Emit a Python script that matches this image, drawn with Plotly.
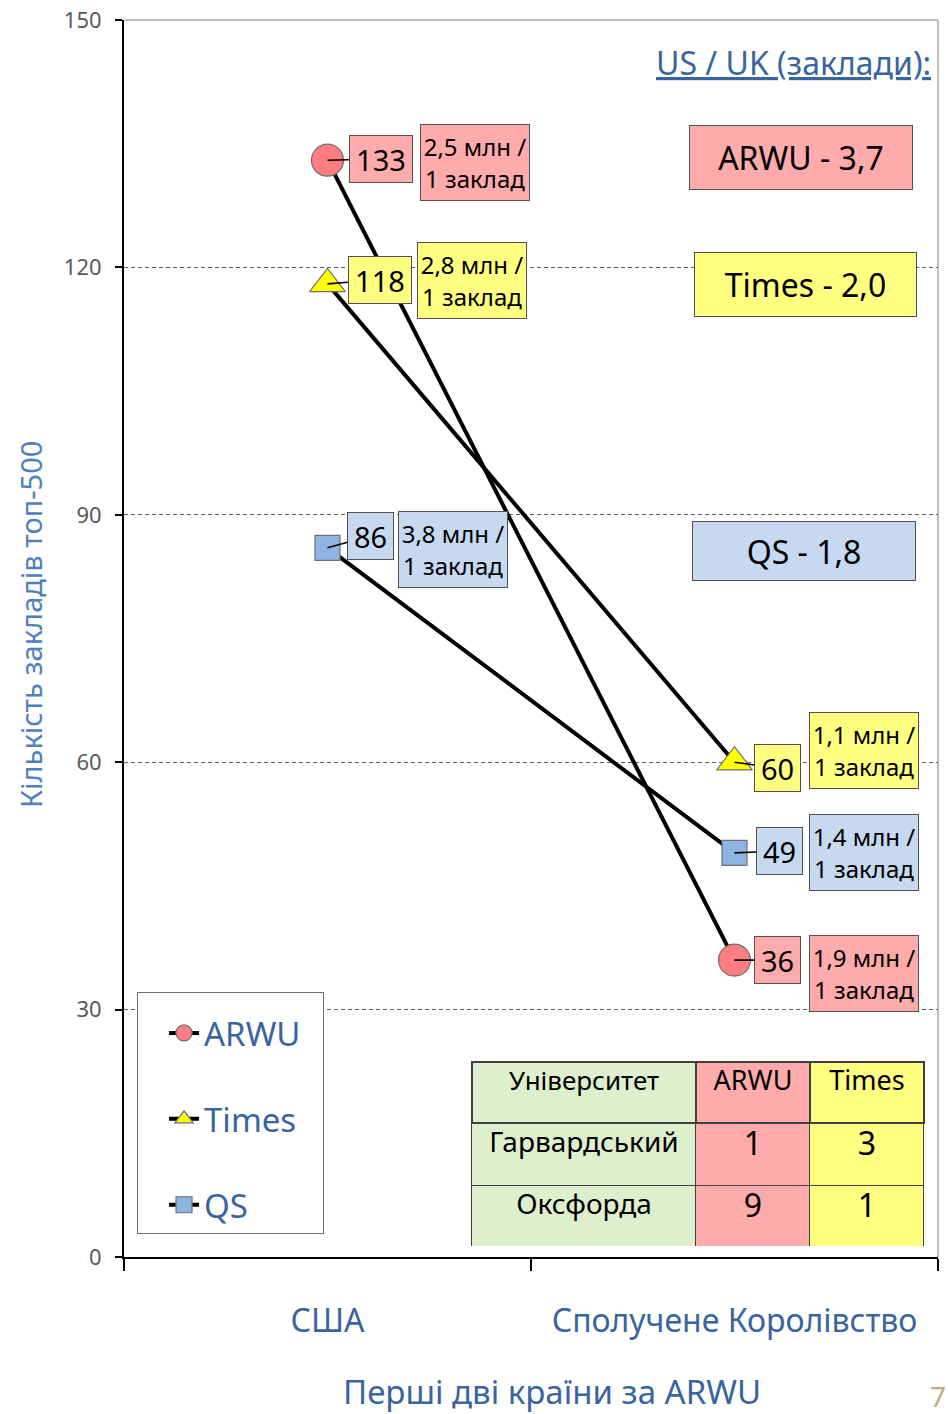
import plotly.graph_objects as go

# ---------------- data ----------------
countries = ["США", "Сполучене Королівство"]
series_names = ["ARWU", "Times", "QS"]
arwu = [133, 36]
times = [118, 60]
qs = [86, 49]
arwu_ratio = ["2,5 млн /", "1,9 млн /"]
times_ratio = ["2,8 млн /", "1,1 млн /"]
qs_ratio = ["3,8 млн /", "1,4 млн /"]
ratio_unit = "1 заклад"
us_uk_title = "US / UK (заклади):"
us_uk_ratio = ["3,7", "2,0", "1,8"]
table_header = ["Університет", "ARWU", "Times"]
universities = ["Гарвардський", "Оксфорда"]
arwu_rank = [1, 9]
times_rank = [3, 1]
y_ticks = [0, 30, 60, 90, 120, 150]
y_title = "Кількість закладів топ-500"
x_title = "Перші дві країни за ARWU"
page_no = "7"

# ---------------- styles ----------------
FONT = "Noto Sans"
BLUE = "#3A64A0"
marker_fill = {"ARWU": "#FF7C80", "Times": "#FFFF00", "QS": "#8DB4E2"}
marker_sym = {"ARWU": "circle", "Times": "triangle-up", "QS": "square"}
marker_size = {"ARWU": 32, "Times": 31, "QS": 25}
box_fill = {"ARWU": "#FFABAB", "Times": "#FFFF80", "QS": "#C6D9F1"}
values = {"ARWU": arwu, "Times": times, "QS": qs}
ratios = {"ARWU": arwu_ratio, "Times": times_ratio, "QS": qs_ratio}
# pixel offsets of label boxes relative to their point: (value dx, dy, ratio dx, dy)
offsets = {
    "ARWU": [(53, -1, 147, -2), (43, 0, 129, -13)],
    "Times": [(52, -4, 144, 3), (43, 6, 129, 12)],
    "QS": [(43, -12, 125, -2), (45, -2, 129, 0)],
}
legend_pad = "\u00a0\u00a0"  # widens the legend box a little

fig = go.Figure()

for name in series_names:
    fig.add_trace(go.Scatter(
        x=countries, y=values[name], name=name + legend_pad, legendgroup=name,
        mode="lines+markers",
        line=dict(color="black", width=4),
        marker=dict(symbol=marker_sym[name], size=marker_size[name],
                    color=marker_fill[name],
                    line=dict(color="#707070", width=1.2)),
        hoverinfo="skip",
    ))

annotations = []
for name in series_names:
    for i, c in enumerate(countries):
        v = values[name][i]
        vdx, vdy, rdx, rdy = offsets[name][i]
        w = 62 if v >= 100 else 45
        annotations.append(dict(
            x=c, y=v, xref="x", yref="y", text=str(v),
            showarrow=True, arrowhead=0, arrowwidth=1.6, arrowcolor="black",
            ax=vdx, ay=vdy, standoff=0,
            width=w, height=46, borderpad=0,
            bgcolor=box_fill[name], bordercolor="#505050", borderwidth=1,
            font=dict(family=FONT, size=29, color="black"),
        ))
        annotations.append(dict(
            x=c, y=v, xref="x", yref="y",
            text=ratios[name][i] + "<br>" + ratio_unit,
            showarrow=False, xshift=rdx, yshift=rdy,
            width=108, height=75, borderpad=0, align="center",
            bgcolor=box_fill[name], bordercolor="#505050", borderwidth=1,
            font=dict(family=FONT, size=24, color="black"),
        ))

# US / UK summary
annotations.append(dict(
    x=0.994, y=0.966, xref="paper", yref="paper", xanchor="right", yanchor="middle",
    text="<u>" + us_uk_title + "</u>", showarrow=False,
    font=dict(family=FONT, size=32, color=BLUE),
))
summary_pos = [(0.8317, 0.8888, 222, 63), (0.8372, 0.7862, 221, 63), (0.8354, 0.5707, 222, 58)]
for name, r, (px, py, w, h) in zip(series_names, us_uk_ratio, summary_pos):
    annotations.append(dict(
        x=px, y=py, xref="paper", yref="paper", xanchor="center", yanchor="middle",
        text=f"{name} - {r}", showarrow=False, width=w, height=h, borderpad=0,
        bgcolor=box_fill[name], bordercolor="#505050", borderwidth=1,
        font=dict(family=FONT, size=32, color="black"),
    ))

# axis titles (placed as annotations to match the reference offsets)
annotations.append(dict(
    x=0.526, y=-0.109, xref="paper", yref="paper", xanchor="center", yanchor="middle",
    text=x_title, showarrow=False, font=dict(family=FONT, size=33, color=BLUE),
))
annotations.append(dict(
    x=-0.1155, y=0.5117, xref="paper", yref="paper", xanchor="center", yanchor="middle",
    text=y_title, textangle=-90, showarrow=False,
    font=dict(family=FONT, size=29, color="#4F81BD"),
))

# page number
annotations.append(dict(
    x=1.0, y=-0.112, xref="paper", yref="paper", xanchor="left", yanchor="middle",
    text=page_no, showarrow=False, xshift=-10,
    font=dict(family=FONT, size=28, color="#C4AD85"),
))

# table
green = "#DDEFCD"
fig.add_trace(go.Table(
    domain=dict(x=[0.4275, 0.9828], y=[0.0081, 0.1576]),
    columnwidth=[224, 114, 114],
    header=dict(values=table_header, height=61,
                fill_color=[green, box_fill["ARWU"], box_fill["Times"]],
                line=dict(color="#404040", width=1.5),
                font=dict(family=FONT, size=[26, 27, 27], color="black"), align="center"),
    cells=dict(values=[universities, arwu_rank, times_rank], height=62,
               fill_color=[green, box_fill["ARWU"], box_fill["Times"]],
               line=dict(color="#404040", width=1),
               font=dict(family=FONT, size=[28, 32, 32], color="black"), align="center"),
))

# plot border (top and right)
shapes = [
    dict(type="line", xref="paper", yref="paper", x0=0, x1=1, y0=1, y1=1,
         line=dict(color="#808080", width=1)),
    dict(type="line", xref="paper", yref="paper", x0=1, x1=1, y0=0, y1=1,
         line=dict(color="#808080", width=1)),
]

fig.update_layout(
    width=948, height=1414,
    margin=dict(l=124, r=10, t=20, b=157, autoexpand=False),
    paper_bgcolor="white", plot_bgcolor="white",
    font=dict(family=FONT),
    showlegend=True,
    legend=dict(x=0.016, y=0.214, xanchor="left", yanchor="top",
                bgcolor="white", bordercolor="#707070", borderwidth=1,
                font=dict(family=FONT, size=33, color=BLUE),
                title=dict(text="\u00a0", font=dict(size=9)),
                tracegroupgap=40, itemsizing="trace", indentation=26),
    annotations=annotations,
    shapes=shapes,
    xaxis=dict(
        type="category", range=[-0.5, 1.5], tickson="boundaries",
        showgrid=False, zeroline=False,
        showline=True, linecolor="black", linewidth=2,
        ticks="outside", ticklen=12, tickwidth=2, tickcolor="black",
        tickfont=dict(family=FONT, size=32, color=BLUE),
        ticklabelstandoff=35,
        automargin=False,
    ),
    yaxis=dict(
        range=[0, 150], tickvals=y_ticks, ticktext=[str(t) for t in y_ticks],
        showgrid=True, gridcolor="#606060", gridwidth=1, griddash="4px,3px",
        zeroline=False,
        showline=True, linecolor="black", linewidth=2,
        ticks="outside", ticklen=7, tickwidth=2, tickcolor="black",
        tickfont=dict(family=FONT, size=22, color="#595959"),
        ticklabelstandoff=9,
        automargin=False,
    ),
)

fig.write_html("out.html", config={"displayModeBar": False},
               post_script="document.body.style.margin='0px';document.body.style.overflow='hidden';")
